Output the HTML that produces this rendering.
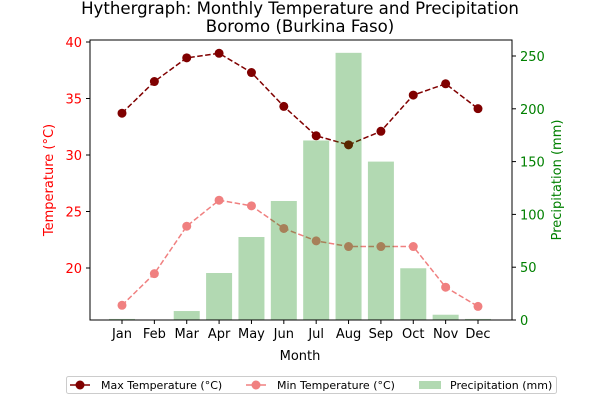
<!DOCTYPE html>
<html><head><meta charset="utf-8"><style>
body{margin:0;background:#fff}
svg{font-family:"DejaVu Sans","Liberation Sans",sans-serif}
</style></head><body>
<svg id="c" width="600" height="400"></svg>
<script>
const months=["Jan","Feb","Mar","Apr","May","Jun","Jul","Aug","Sep","Oct","Nov","Dec"];
const maxTemp=[33.7,36.5,38.6,39.0,37.3,34.3,31.7,30.9,32.1,35.3,36.3,34.1];
const minTemp=[16.7,19.5,23.7,26.0,25.5,23.5,22.4,21.9,21.9,21.9,18.3,16.6];
const precip=[1,0,8.5,44.5,78.6,112.7,170,253,150,49,5,1];
const tempTicks=[20,25,30,35,40];
const precipTicks=[0,50,100,150,200,250];
const NS="http://www.w3.org/2000/svg";
const svg=document.getElementById('c');
const L=90,R=512,T=40,B=320;
const xs=i=>122+i*(478-122)/11;
const yT=v=>268-(v-20)*(226/20);
const yP=v=>320-v*(264/250);
function el(t,a,txt){const e=document.createElementNS(NS,t);for(const k in a)e.setAttribute(k,a[k]);if(txt!=null)e.textContent=txt;svg.appendChild(e);return e;}
function series(data,col,name){
 const pts=data.map((v,i)=>xs(i)+','+yT(v)).join(' ');
 const l=el('polyline',{points:pts,fill:'none',stroke:col,'stroke-width':1.5,'stroke-dasharray':'5.5,2.5'});
 
 
 data.forEach((v,i)=>{const c=el('circle',{cx:xs(i),cy:yT(v),r:4.5,fill:col});
 
 });
}
series(minTemp,'#f08080','min-temp');
series(maxTemp,'#800000','max-temp');
precip.forEach((p,i)=>{const b=el('rect',{x:xs(i)-13,y:yP(p),width:26,height:B-yP(p),fill:'green','fill-opacity':0.3});

});
el('rect',{x:L,y:T,width:R-L,height:B-T,fill:'none',stroke:'#000','stroke-width':1});
months.forEach((m,i)=>{el('line',{x1:xs(i),x2:xs(i),y1:B,y2:B+4,stroke:'#000'});
const t=el('text',{x:xs(i),y:B+18,'text-anchor':'middle','font-size':13},m);

});
tempTicks.forEach(v=>{el('line',{x1:L-4,x2:L,y1:yT(v),y2:yT(v),stroke:'#000'});
const t=el('text',{x:L-8,y:yT(v)+5,'text-anchor':'end','font-size':13,fill:'red'},v);

});
precipTicks.forEach(v=>{el('line',{x1:R,x2:R+4,y1:yP(v),y2:yP(v),stroke:'#000'});
const t=el('text',{x:R+8,y:yP(v)+5,'font-size':13,fill:'green'},v);

});
</script>
<svg width="600" height="400" style="position:absolute;left:0;top:0">
<text x="300" y="14" text-anchor="middle" font-size="16.6">Hythergraph: Monthly Temperature and Precipitation</text>
<text x="300" y="32" text-anchor="middle" font-size="16.6">Boromo (Burkina Faso)</text>
<text x="300" y="360" text-anchor="middle" font-size="13">Month</text>
<text transform="translate(53,180) rotate(-90)" text-anchor="middle" font-size="13" fill="red">Temperature (°C)</text>
<text transform="translate(561,180) rotate(-90)" text-anchor="middle" font-size="13" fill="green">Precipitation (mm)</text>
<g>
<rect x="66.5" y="376.5" width="490" height="17" rx="2" fill="#fff" stroke="#ccc"/>
<line x1="70" x2="90" y1="385" y2="385" stroke="#800000" stroke-width="1.5"/>
<circle cx="80" cy="385" r="4.5" fill="#800000"/>
<text x="101" y="389" font-size="11">Max Temperature (°C)</text>
<line x1="246" x2="266" y1="385" y2="385" stroke="#f08080" stroke-width="1.5"/>
<circle cx="256" cy="385" r="4.5" fill="#f08080"/>
<text x="277" y="389" font-size="11">Min Temperature (°C)</text>
<rect x="419" y="381" width="22" height="8" fill="#b2d9b2"/>
<text x="450" y="389" font-size="11">Precipitation (mm)</text>
</g>
</svg>
</body></html>
